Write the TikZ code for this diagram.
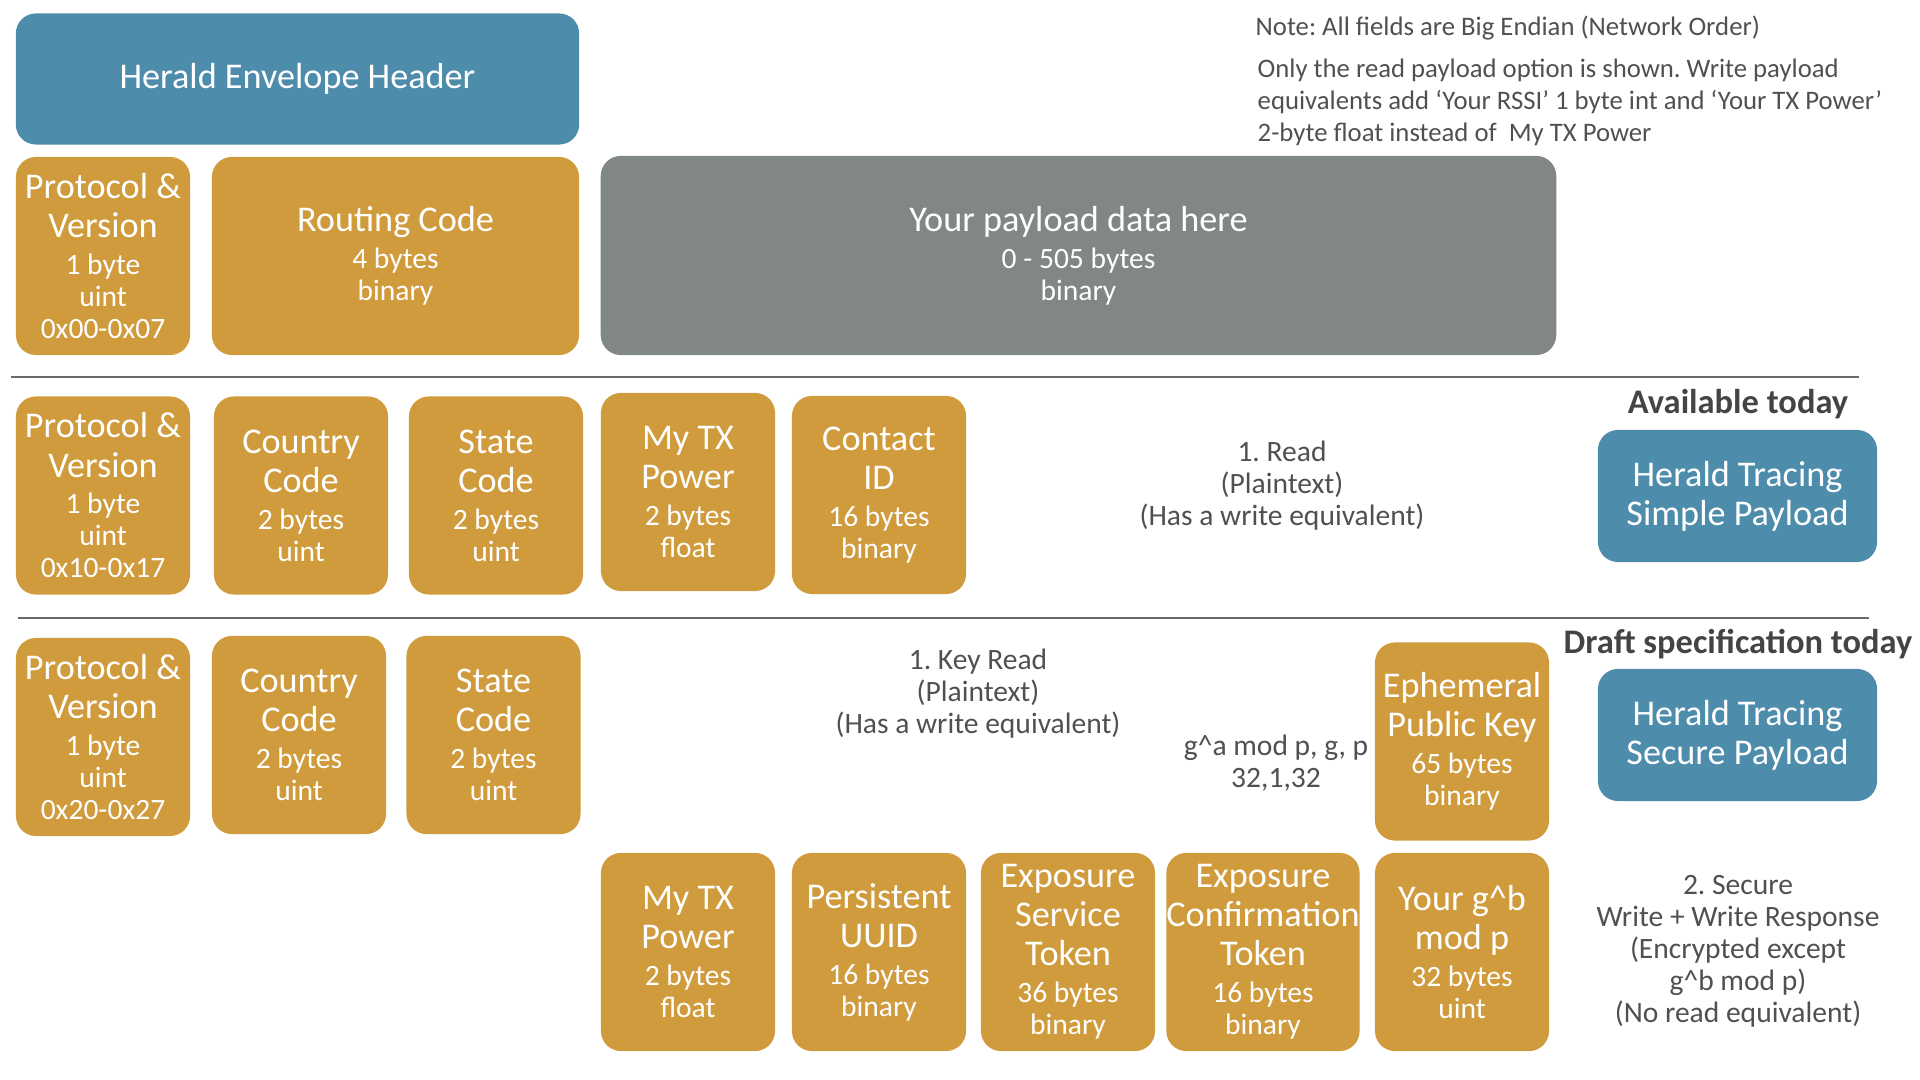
\documentclass[tikz,border=0pt]{standalone}
\usepackage{fontspec}
\setmainfont{Carlito}
\frenchspacing
\definecolor{heraldblue}{RGB}{78,140,172}
\definecolor{fieldgold}{RGB}{208,155,60}
\definecolor{payloadgrey}{RGB}{128,135,132}
\definecolor{notegrey}{RGB}{80,80,80}
\definecolor{taggrey}{RGB}{68,68,68}
\definecolor{linegrey}{RGB}{105,105,105}
\newcommand{\titlefont}{\fontsize{10.3}{11.1}\selectfont}
\newcommand{\detailfont}{\fontsize{8.4}{9.1}\selectfont}
\newcommand{\notefont}{\fontsize{7.6}{9.1}\selectfont}

\begin{document}
\begin{tikzpicture}[x=0.01cm, y=-0.01cm, font=\titlefont,
    field/.style={fill=fieldgold, text=white, rounded corners=0.2cm, align=center, inner sep=0pt, minimum width=1.74cm, minimum height=1.98cm},
    header/.style={fill=heraldblue, text=white, rounded corners=0.2cm, align=center, inner sep=0pt},
    remark/.style={text=notegrey, font=\detailfont, align=center, inner sep=0pt},
    tag/.style={text=taggrey, font=\fontsize{9.8}{11}\selectfont\bfseries, inner sep=0pt},
    sep/.style={draw=linegrey, line width=0.7pt}]
    \useasboundingbox (0,0) rectangle (1920,1080);

    % envelope
    \node[header, minimum width=5.63cm, minimum height=1.31cm] (env) at (297.5,79) {Herald Envelope Header};
    \node[field] (pv0) at (103,256) {Protocol \&\\Version\\[-0.6pt]\detailfont 1 byte\\[-2pt]\detailfont uint\\[-2pt]\detailfont 0x00-0x07};
    \node[field, minimum width=3.67cm] (route) at (395.5,256) {Routing Code\\[-0.6pt]\detailfont 4 bytes\\[-2pt]\detailfont binary};
    \node[field, fill=payloadgrey, minimum width=9.55cm, minimum height=1.99cm] (payload) at (1078.5,255.5) {Your payload data here\\[-0.6pt]\detailfont 0 - 505 bytes\\[-2pt]\detailfont binary};
    \node[remark, font=\notefont, anchor=west] (endian) at (1255,28) {Note: All fields are Big Endian (Network Order)};
    \node[remark, font=\notefont, anchor=west, align=left] (writenote) at (1257,102) {Only the read payload option is shown. Write payload\\equivalents add `Your RSSI' 1 byte int and `Your TX Power'\\2-byte float instead of\ \ My TX Power};

    % simple payload
    \draw[sep] (11,377) -- (1859,377);
    \node[field] (pv1) at (103,495.5) {Protocol \&\\Version\\[-0.6pt]\detailfont 1 byte\\[-2pt]\detailfont uint\\[-2pt]\detailfont 0x10-0x17};
    \node[field] (cc1) at (301,495.5) {Country\\Code\\[-0.6pt]\detailfont 2 bytes\\[-2pt]\detailfont uint};
    \node[field] (sc1) at (496,495.5) {State\\Code\\[-0.6pt]\detailfont 2 bytes\\[-2pt]\detailfont uint};
    \node[field] (tx1) at (688,492) {My TX\\Power\\[-0.6pt]\detailfont 2 bytes\\[-2pt]\detailfont float};
    \node[field] (cid) at (879,495) {Contact\\ID\\[-0.6pt]\detailfont 16 bytes\\[-2pt]\detailfont binary};
    \node[remark] (read) at (1282,486) {1. Read\\(Plaintext)\\(Has a write equivalent)};
    \node[tag] (avail) at (1738,404) {Available today};
    \node[header, minimum width=2.79cm, minimum height=1.32cm] (simple) at (1737.5,496) {Herald Tracing\\Simple Payload};

    % secure payload
    \draw[sep] (18,618) -- (1869,618);
    \node[field] (pv2) at (103,737) {Protocol \&\\Version\\[-0.6pt]\detailfont 1 byte\\[-2pt]\detailfont uint\\[-2pt]\detailfont 0x20-0x27};
    \node[field] (cc2) at (299,735) {Country\\Code\\[-0.6pt]\detailfont 2 bytes\\[-2pt]\detailfont uint};
    \node[field] (sc2) at (493.5,735) {State\\Code\\[-0.6pt]\detailfont 2 bytes\\[-2pt]\detailfont uint};
    \node[remark] (keyread) at (978,694) {1. Key Read\\(Plaintext)\\(Has a write equivalent)};
    \node[remark] (dh) at (1276,763) {g\textasciicircum a mod p, g, p\\32,1,32};
    \node[field] (eph) at (1462,741.5) {Ephemeral\\Public Key\\[-0.6pt]\detailfont 65 bytes\\[-2pt]\detailfont binary};
    \node[tag] (draft) at (1738,644) {Draft specification today};
    \node[header, minimum width=2.79cm, minimum height=1.32cm] (secure) at (1737.5,735) {Herald Tracing\\Secure Payload};

    \node[field] (tx2) at (688,952) {My TX\\Power\\[-0.6pt]\detailfont 2 bytes\\[-2pt]\detailfont float};
    \node[field] (uuid) at (879,952) {Persistent\\UUID\\[-0.6pt]\detailfont 16 bytes\\[-2pt]\detailfont binary};
    \node[field] (est) at (1068,952) {Exposure\\Service\\Token\\[-0.6pt]\detailfont 36 bytes\\[-2pt]\detailfont binary};
    \node[field, minimum width=1.92cm] (ect) at (1263,952) {Exposure\\Confirmation\\Token\\[-0.6pt]\detailfont 16 bytes\\[-2pt]\detailfont binary};
    \node[field] (gb) at (1462,952) {Your g\textasciicircum b\\mod p\\[-0.6pt]\detailfont 32 bytes\\[-2pt]\detailfont uint};
    \node[remark] (writeresp) at (1738,951) {2. Secure\\Write + Write Response\\(Encrypted except\\g\textasciicircum b mod p)\\(No read equivalent)};
\end{tikzpicture}
\end{document}
